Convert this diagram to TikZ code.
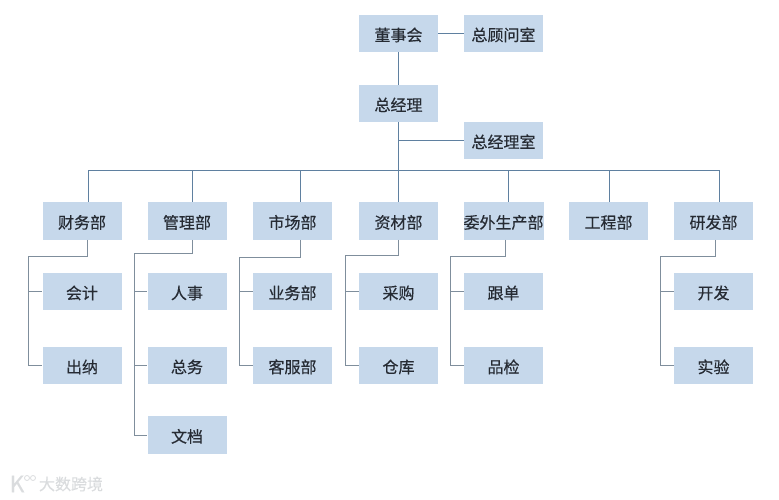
\documentclass[tikz,border=0pt]{standalone}
\usepackage{fontspec}
\setmainfont{Noto Sans CJK SC}[FakeBold=0.35]
\definecolor{boxfill}{HTML}{C6D8EB}
\definecolor{busline}{HTML}{5F80A0}
\definecolor{subline}{HTML}{7F8E9C}
\definecolor{labelcol}{HTML}{262B33}
\definecolor{markcol}{HTML}{DADCDE}
\tikzset{
    unit/.style={fill=boxfill, minimum width=79pt, minimum height=37.5pt, inner sep=0pt,
        text height=15pt, text depth=0pt, text=labelcol, font=\fontsize{16}{18}\selectfont},
    bus/.style={draw=busline, line width=1pt},
    sub/.style={draw=subline, line width=1pt}
}
\begin{document}
\begin{tikzpicture}[x=1pt, y=-1pt]
    \useasboundingbox (0,0) rectangle (779,500);

    % Macro for the stem, spine and ticks below a department
    \newcommand{\branch}[5]{
        \coordinate (turn#1) at (#2,#3);
        \coordinate (spine#1) at (#4,#3);
        \draw[sub] (#1.south -| turn#1) -- (turn#1) -- (spine#1) -- (spine#1 |- #5.west) -- (#5.west);
    }

    % Top of the chart
    \node[unit] (board) at (398.5,33.5) {董事会};
    \node[unit] (advisor) at (503.5,33.5) {总顾问室};
    \node[unit] (gm) at (398.5,103.5) {总经理};
    \node[unit] (gmoffice) at (503.5,140.5) {总经理室};

    % Departments
    \foreach \name/\cx/\lbl in {finance/82/财务部, admin/187/管理部, market/292.5/市场部,
        material/398.5/资材部, outsource/503.5/委外生产部, engineer/608.5/工程部, rnd/713.5/研发部} {
        \node[unit] (\name) at (\cx,221) {\lbl};
    }

    % Sub units
    \foreach \name/\cx/\cy/\lbl in {
        account/82/291.5/会计, cashier/82/365.5/出纳,
        hr/187/291.5/人事, general/187/365.5/总务, archive/187/435/文档,
        sales/292.5/291.5/业务部, service/292.5/365.5/客服部,
        purchase/398.5/291.5/采购, store/398.5/365.5/仓库,
        follow/503.5/291.5/跟单, quality/503.5/365.5/品检,
        develop/713.5/291.5/开发, test/713.5/365.5/实验} {
        \node[unit] (\name) at (\cx,\cy) {\lbl};
    }

    % Upper connectors
    \draw[bus] (board) -- (advisor);
    \draw[bus] (board) -- (gm);
    \draw[bus] (gm) -- (material);
    \draw[bus] (gm.south |- gmoffice.west) -- (gmoffice.west);

    % Horizontal bus
    \coordinate (busleft) at (88,170);
    \coordinate (busright) at (719,170);
    \draw[bus] (busleft) -- (busright);
    \foreach \name/\sx in {finance/88, admin/192, market/300, outsource/508, engineer/609, rnd/719} {
        \coordinate (stem\name) at (\sx,170);
        \draw[bus] (stem\name) -- (stem\name |- \name.north);
    }

    % Branches
    \branch{finance}{87}{256}{28}{cashier}
    \draw[sub] (spinefinance |- account.west) -- (account.west);
    \branch{admin}{192}{253}{134}{archive}
    \draw[sub] (spineadmin |- hr.west) -- (hr.west);
    \draw[sub] (spineadmin |- general.west) -- (general.west);
    \branch{market}{300}{257}{239}{service}
    \draw[sub] (spinemarket |- sales.west) -- (sales.west);
    \branch{material}{398}{255}{345}{store}
    \draw[sub] (spinematerial |- purchase.west) -- (purchase.west);
    \branch{outsource}{505}{256}{450}{quality}
    \draw[sub] (spineoutsource |- follow.west) -- (follow.west);
    \branch{rnd}{715}{256}{660}{test}
    \draw[sub] (spinernd |- develop.west) -- (develop.west);

    % Watermark
    \node[text=markcol, font=\fontsize{23}{23}\selectfont, inner sep=0pt] (logo) at (17,484) {K};
    \draw[markcol, line width=0.8pt] (27,478) circle (2.5pt);
    \draw[markcol, line width=0.8pt] (33,478) circle (2.5pt);
    \node[text=markcol, font=\fontsize{16}{18}\selectfont, inner sep=0pt] (mark) at (71,484) {大数跨境};
\end{tikzpicture}
\end{document}
